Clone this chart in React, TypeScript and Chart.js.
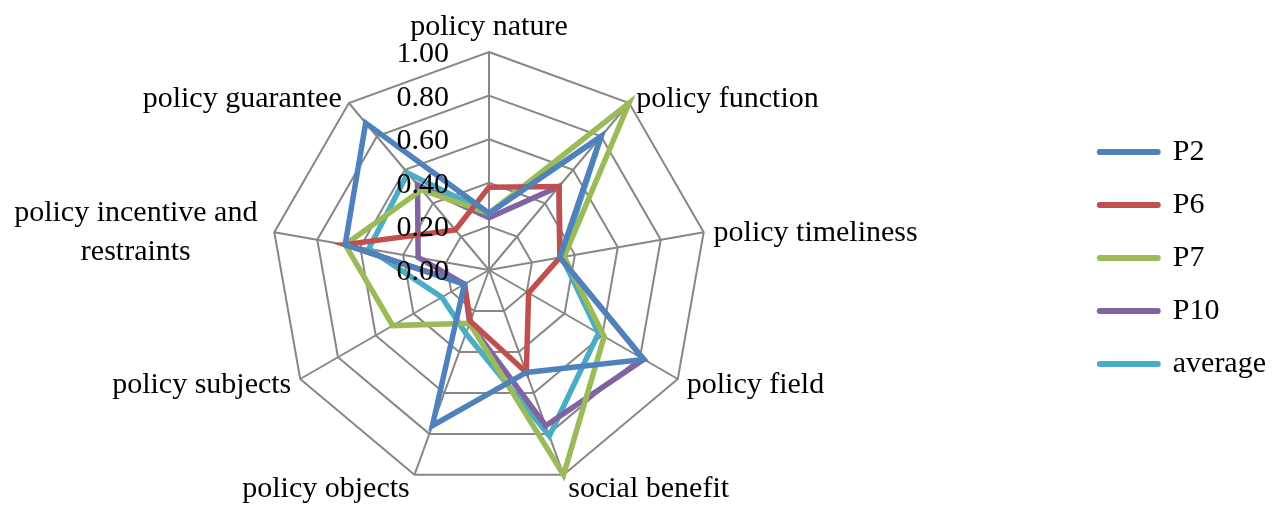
import React, { useEffect, useRef } from 'react';
import { Chart, registerables } from 'chart.js';

Chart.register(...registerables);

const CATEGORIES: (string | string[])[] = [
  'policy nature',
  'policy function',
  'policy timeliness',
  'policy field',
  'social benefit',
  'policy objects',
  'policy subjects',
  ['policy incentive and', 'restraints'],
  'policy guarantee',
];

const P2 = [0.26, 0.8, 0.33, 0.82, 0.5, 0.76, 0.13, 0.67, 0.88];
const P6 = [0.38, 0.5, 0.33, 0.21, 0.5, 0.25, 0.13, 0.67, 0.24];
const P7 = [0.26, 1.0, 0.35, 0.61, 1.0, 0.26, 0.51, 0.67, 0.48];
const P10 = [0.24, 0.5, 0.33, 0.82, 0.76, 0.26, 0.13, 0.33, 0.51];
const AVERAGE = [0.26, 0.8, 0.34, 0.58, 0.81, 0.31, 0.25, 0.56, 0.58];

const SERIES_NAMES = ['P2', 'P6', 'P7', 'P10', 'average'];
const SERIES_VALUES = [P2, P6, P7, P10, AVERAGE];
const COLORS = ['#4F81BD', '#C0504D', '#9BBB59', '#8064A2', '#4BACC6'];

const TICKS = [0, 0.2, 0.4, 0.6, 0.8, 1.0];

const FONT_FAMILY = '"Liberation Serif", "Times New Roman", serif';
const FONT_SIZE = 30;
const GRID_COLOR = '#878787';
const LINE_WIDTH = 5.5;

// The canvas extends past the left edge of the window so that the radar
// centre and the right-hand legend land where they are in the reference.
const CANVAS_SHIFT = 98;
const CANVAS_W = 1280 + CANVAS_SHIFT;
const CANVAS_H = 506;

const excelLabels = {
  id: 'excelLabels',
  afterDraw(chart: any) {
    const scale = chart.scales.r;
    const ctx: CanvasRenderingContext2D = chart.ctx;
    ctx.save();
    ctx.fillStyle = '#000000';
    ctx.font = `${FONT_SIZE}px ${FONT_FAMILY}`;
    ctx.textBaseline = 'alphabetic';

    // radial tick labels, left of the vertical axis
    ctx.textAlign = 'right';
    scale.ticks.forEach((t: any) => {
      const y = scale.yCenter - scale.getDistanceFromCenterForValue(t.value);
      ctx.fillText(Number(t.value).toFixed(2), scale.xCenter - 40, y + 10);
    });

    // point labels
    const labels: (string | string[])[] = chart.data.labels;
    const n = labels.length;
    const lh = 39;
    labels.forEach((lab, i) => {
      const lines = Array.isArray(lab) ? lab : [lab];
      const p = scale.getPointPosition(i, scale.drawingArea + 8);
      const deg = Math.round((i * 360) / n);
      let align: 'left' | 'right' | 'center' = 'center';
      let x = p.x;
      const gap = lines.length > 1 ? 9 : 2;
      if (deg === 0 || deg === 180) {
        align = 'center';
      } else if (deg < 180) {
        align = 'left';
        x = p.x + gap;
      } else {
        align = 'right';
        x = p.x - gap;
      }
      let firstBaseline: number;
      if (deg === 0) firstBaseline = p.y - 9 - (lines.length - 1) * lh;
      else if (deg > 135 && deg < 225) firstBaseline = p.y + 15;
      else firstBaseline = p.y + 10 - ((lines.length - 1) * lh) / 2;

      const W = Math.max(...lines.map((l) => ctx.measureText(l).width));
      lines.forEach((ln, k) => {
        let lx = x;
        let a: CanvasTextAlign = align;
        if (lines.length > 1) {
          a = 'center';
          lx = align === 'left' ? x + W / 2 : align === 'right' ? x - W / 2 : x;
        }
        ctx.textAlign = a;
        ctx.fillText(ln, lx, firstBaseline + k * lh);
      });
    });
    ctx.restore();
  },
};

export default function App() {
  const canvasRef = useRef<HTMLCanvasElement | null>(null);

  useEffect(() => {
    if (!canvasRef.current) return;
    Chart.defaults.font.family = FONT_FAMILY;
    const chart = new Chart(canvasRef.current, {
      type: 'radar',
      data: {
        labels: CATEGORIES as any,
        datasets: SERIES_NAMES.map((name, i) => ({
          label: name,
          data: SERIES_VALUES[i],
          borderColor: COLORS[i],
          backgroundColor: COLORS[i],
          borderWidth: LINE_WIDTH,
          fill: false,
          pointRadius: 0,
          pointHoverRadius: 0,
          pointStyle: 'line',
          pointBorderColor: COLORS[i],
          pointBorderWidth: LINE_WIDTH,
          borderJoinStyle: 'miter' as const,
        })),
      },
      options: {
        responsive: false,
        animation: false,
        events: [],
        layout: { padding: { left: 0, right: 4, top: 28, bottom: 18 } },
        elements: {
          line: { borderWidth: LINE_WIDTH, fill: false, tension: 0 },
          point: { radius: 0 },
        },
        scales: {
          r: {
            min: 0,
            max: 1,
            afterBuildTicks: (scale: any) => {
              scale.ticks = TICKS.map((v) => ({ value: v }));
            },
            ticks: { display: false, stepSize: 0.2 },
            pointLabels: { display: false },
            grid: { color: GRID_COLOR, lineWidth: 2 },
            angleLines: { color: GRID_COLOR, lineWidth: 2 },
          },
        },
        plugins: {
          title: { display: true, text: '', padding: 0, font: { size: 20, lineHeight: 1.2 } },
          tooltip: { enabled: false },
          legend: {
            position: 'right',
            labels: {
              color: '#000000',
              font: { size: FONT_SIZE, family: FONT_FAMILY },
              padding: 23,
              usePointStyle: true,
              pointStyleWidth: 58,
              generateLabels: (c: any) =>
                Chart.defaults.plugins.legend.labels
                  .generateLabels(c)
                  .map((l: any) => ({ ...l, lineCap: 'round', lineWidth: 6 })),
            },
          },
        },
      },
      plugins: [excelLabels],
    });
    return () => chart.destroy();
  }, []);

  return (
    <div
      style={{
        position: 'absolute',
        left: -CANVAS_SHIFT,
        top: 0,
        width: CANVAS_W,
        height: CANVAS_H,
        background: '#ffffff',
      }}
    >
      <canvas ref={canvasRef} width={CANVAS_W} height={CANVAS_H} style={{ display: 'block' }} />
    </div>
  );
}
